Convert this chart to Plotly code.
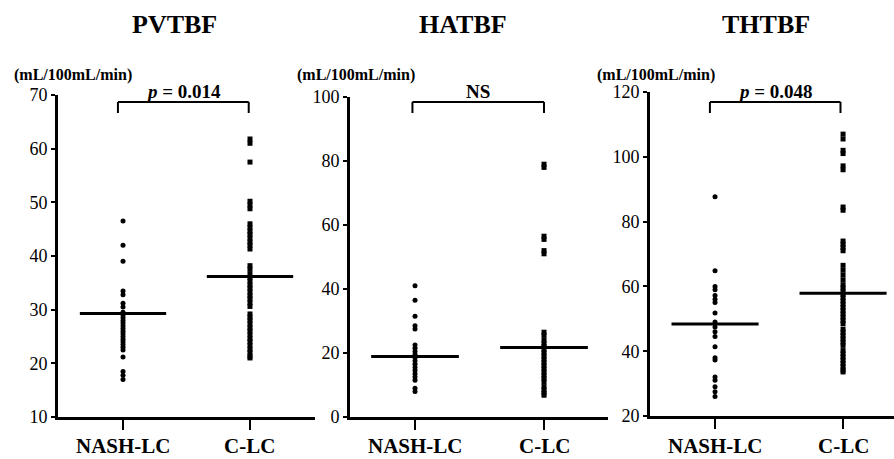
import plotly.graph_objects as go

# ---------------- data ----------------
categories = ["NASH-LC", "C-LC"]
panel_titles = ["PVTBF", "HATBF", "THTBF"]
unit_label = "(mL/100mL/min)"
p_labels = ["<i>p</i> = 0.014", "NS", "<i>p</i> = 0.048"]

pvtbf_nash = [46.5, 42, 39, 33.5, 32.8, 31.2, 30.5, 29.5, 29, 28.5, 28, 27.5, 27, 26.5,
              26, 25.5, 25, 24.5, 24, 23.5, 23, 22.5, 21.2, 18.5, 17.8, 17]
pvtbf_clc = [61.8, 61, 57.5, 50.2, 49.5, 48.8, 46, 45.3, 44.6, 44, 43.3, 42.6, 42, 41.3,
             38.2, 37.5, 36.6, 36, 35.3, 34.6, 34, 33.3, 32.6, 32, 31.3, 30.6, 29.2, 28.6,
             28, 27.3, 26.6, 26, 25.3, 24.6, 24, 23.3, 22.6, 22, 21.3, 21]
pvtbf_mean = [29.3, 36.2]

hatbf_nash = [41, 36.5, 31.5, 28.5, 27.5, 22.5, 21.5, 20.5, 19.5, 18.5, 17.5, 16.5, 15.5,
              14.5, 13.5, 12.5, 11.5, 9, 8]
hatbf_clc = [79, 78, 56.5, 55.5, 52, 51, 26.5, 25.5, 24, 23, 22, 21, 20, 19, 18, 17, 16,
             15, 14, 13, 12, 11, 9.5, 8.5, 7.5, 6.8]
hatbf_mean = [18.9, 21.7]

thtbf_nash = [87.7, 64.8, 60, 59, 57.2, 56, 55, 51.8, 49, 47.5, 46, 44.5, 41.4, 38, 37.3,
              32, 31, 29, 27.5, 26]
thtbf_clc = [107, 105.5, 102, 101, 97.2, 96, 84.5, 83.5, 74, 73, 72, 71, 66.5, 65, 63.5,
             62, 60.5, 59.5, 58.5, 57.5, 56.5, 55.5, 54.5, 53.5, 52.5, 51.5, 50.5, 49.5,
             48.5, 46.8, 45.8, 44.8, 43.8, 42.8, 41.8, 40.2, 39.2, 38.2, 37.2, 36.2, 35.2,
             34.2, 33.6]
thtbf_mean = [48.4, 57.9]

y_ranges = [[10, 70], [0, 100], [20, 120]]
y_dticks = [10, 20, 20]

# ---------------- figure ----------------
W, H = 894, 459
FONT = "Liberation Serif, Times New Roman, serif"

panels = [
    (pvtbf_nash, pvtbf_clc, pvtbf_mean),
    (hatbf_nash, hatbf_clc, hatbf_mean),
    (thtbf_nash, thtbf_clc, thtbf_mean),
]

# layout geometry (pixels)
x_dom_px = [(58, 315), (350, 608), (650, 894)]
x_ranges = [[-0.512, 1.512], [-0.504, 1.496], [-0.508, 1.398]]
y_dom_px = [(417, 95), (417, 97), (416, 92)]
title_x_px = [174, 463, 766]
unit_x_px = [12, 295, 595]
bracket_x = [(-0.04, 0.99), (-0.02, 1.0), (-0.04, 0.98)]

fig = go.Figure()
layout = dict(
    width=W, height=H,
    margin=dict(l=0, r=0, t=0, b=0, autoexpand=False),
    paper_bgcolor="white", plot_bgcolor="white",
    showlegend=False,
    font=dict(family=FONT, color="black"),
)
shapes = []
annotations = []

for i, (nash, clc, means) in enumerate(panels):
    sfx = "" if i == 0 else str(i + 1)
    xa, ya = "x" + sfx, "y" + sfx
    fig.add_trace(go.Scatter(
        x=[0] * len(nash), y=nash, mode="markers", xaxis=xa, yaxis=ya,
        marker=dict(symbol="circle", size=5, color="black", line=dict(width=0)),
        hoverinfo="y"))
    fig.add_trace(go.Scatter(
        x=[1] * len(clc), y=clc, mode="markers", xaxis=xa, yaxis=ya,
        marker=dict(symbol="square", size=5, color="black", line=dict(width=0)),
        hoverinfo="y"))
    for c, m in enumerate(means):
        fig.add_trace(go.Scatter(
            x=[c - 0.34, c + 0.34], y=[m, m], mode="lines", xaxis=xa, yaxis=ya,
            line=dict(color="black", width=3), hoverinfo="skip"))

    x0, x1 = x_dom_px[i]
    yb, yt = y_dom_px[i]
    layout["xaxis" + sfx] = dict(
        domain=[x0 / W, x1 / W], range=x_ranges[i], anchor=ya,
        tickvals=[0, 1], showticklabels=False,
        ticks="outside", ticklen=10, tickwidth=2, tickcolor="black",
        showline=True, linewidth=3, linecolor="black", showgrid=False, zeroline=False,
        fixedrange=True,
    )
    layout["yaxis" + sfx] = dict(
        domain=[(H - yb) / H, (H - yt) / H], range=y_ranges[i], anchor=xa,
        dtick=y_dticks[i], tick0=0,
        ticks="outside", ticklen=4, tickwidth=2, tickcolor="black",
        showline=True, linewidth=3, linecolor="black", showgrid=False, zeroline=False,
        tickfont=dict(family=FONT, size=18, color="black"),
        ticklabelstandoff=0, fixedrange=True,
    )

    # category labels
    for c, name in enumerate(categories):
        annotations.append(dict(
            xref=xa, yref="paper", x=c, y=(H - 446) / H,
            text="<b>" + name + "</b>", showarrow=False, xanchor="center", yanchor="middle",
            borderpad=0, font=dict(family=FONT, size=21, color="black")))

    # bracket
    bx0, bx1 = bracket_x[i]
    ytop = (H - 102) / H
    ybot = (H - 113) / H
    for (ax0, ay0, ax1, ay1) in [(bx0, ytop, bx1, ytop), (bx0, ytop, bx0, ybot), (bx1, ytop, bx1, ybot)]:
        shapes.append(dict(type="line", xref=xa, yref="paper", x0=ax0, y0=ay0, x1=ax1, y1=ay1,
                           line=dict(color="black", width=2)))
    annotations.append(dict(
        xref=xa, yref="paper", x=(bx0 + bx1) / 2, y=(H - 91) / H,
        text="<b>" + p_labels[i] + "</b>", showarrow=False, xanchor="center", yanchor="middle",
        font=dict(family=FONT, size=19, color="black")))
    annotations.append(dict(
        xref="paper", yref="paper", x=title_x_px[i] / W, y=(H - 24) / H,
        text="<b>" + panel_titles[i] + "</b>", showarrow=False, xanchor="center", yanchor="middle",
        font=dict(family=FONT, size=26, color="black")))
    annotations.append(dict(
        xref="paper", yref="paper", x=unit_x_px[i] / W, y=(H - 75) / H,
        text="<b>" + unit_label + "</b>", showarrow=False, xanchor="left", yanchor="middle",
        font=dict(family=FONT, size=16, color="black")))

layout["shapes"] = shapes
layout["annotations"] = annotations
fig.update_layout(**layout)
fig.write_html("out.html", config={"displayModeBar": False},
               post_script="document.body.style.margin='0px';document.body.style.overflow='hidden';")
